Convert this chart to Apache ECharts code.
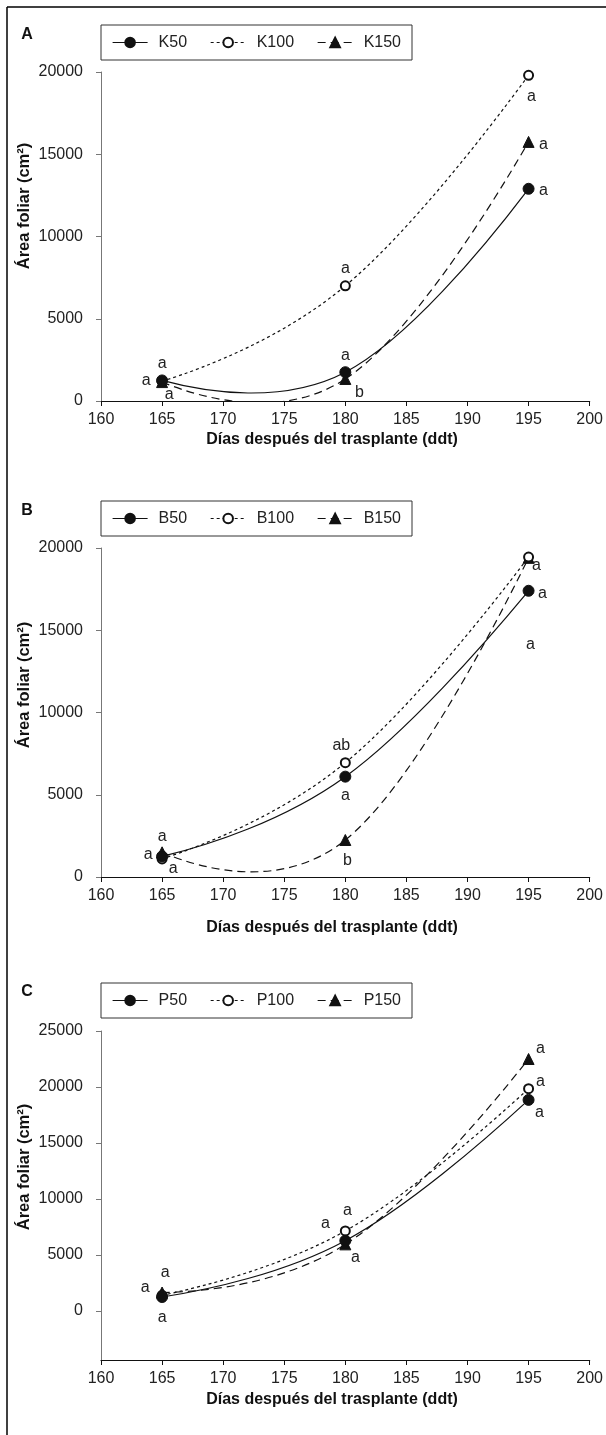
<!DOCTYPE html>
<html>
<head>
<meta charset="utf-8">
<script src="https://cdn.jsdelivr.net/npm/echarts@6.0.0/dist/echarts.min.js"></script>
<style>
  html, body { margin: 0; padding: 0; background: #fff; }
  #chart { width: 606px; height: 1435px; }
</style>
</head>
<body>
<div id="chart"></div>
<script>
// --- data ---
const days = [165, 180, 195];
const yTicksAB = [0, 5000, 10000, 15000, 20000];
const yTicksC = [0, 5000, 10000, 15000, 20000, 25000];

// panel A: potasio
const k50 = [1250, 1750, 12900];
const k100 = [1200, 7000, 19800];
const k150 = [1150, 1340, 15750];
const lettersK50 = ['a', 'a', 'a'];
const lettersK100 = ['a', 'a', 'a'];
const lettersK150 = ['a', 'b', 'a'];

// panel B: boro
const b50 = [1250, 6100, 17400];
const b100 = [1100, 6950, 19450];
const b150 = [1500, 2250, 19400];
const lettersB50 = ['a', 'a', 'a'];
const lettersB100 = ['a', 'ab', 'a'];
const lettersB150 = ['a', 'b', 'a'];

// panel C: fosforo
const p50 = [1250, 6280, 18850];
const p100 = [1400, 7150, 19850];
const p150 = [1650, 5950, 22500];
const lettersP50 = ['a', 'a', 'a'];
const lettersP100 = ['a', 'a', 'a'];
const lettersP150 = ['a', 'a', 'a'];

const FONT = '"Liberation Sans", Arial, sans-serif';
const INK = '#111';
const TXT = '#222';
const FS = 16;

// one entry per panel: grid box + where the texts go
const panels = [
  { top: 72,  yMin: 0,     yMax: 20000, ticks: yTicksAB, legendTop: 25,  letter: 'A', letterY: 35,  yTitleY: 206,  xTitleY: 440 },
  { top: 548, yMin: 0,     yMax: 20000, ticks: yTicksAB, legendTop: 501, letter: 'B', letterY: 511, yTitleY: 685,  xTitleY: 928 },
  { top: 1031, yMin: -4375, yMax: 25000, ticks: yTicksC, legendTop: 983, letter: 'C', letterY: 992, yTitleY: 1167, xTitleY: 1400 }
];

// symbol / dash style per dose (50, 100, 150)
const looks = [
  { symbol: 'circle', size: 11, dash: 'solid', z: 4 },
  { symbol: 'emptyCircle', size: 9, dash: [3, 3], z: 3 },
  { symbol: 'triangle', size: 11, dash: [8, 5], z: 2 }
];

// markers + letters (the joining line is hidden, the smoothed curve is drawn below)
function makeSeries(name, values, letters, panel, dose, offsets) {
  const lk = looks[dose];
  return {
    name: name,
    type: 'line',
    xAxisIndex: panel,
    yAxisIndex: panel,
    z: lk.z,
    symbol: lk.symbol,
    symbolSize: lk.size,
    showAllSymbol: true,
    itemStyle: { color: INK, borderColor: INK, borderWidth: 1 },
    lineStyle: { color: INK, width: 1.2, type: lk.dash, opacity: 0 },
    emphasis: { disabled: true },
    data: values.map((v, i) => ({
      value: [days[i], v],
      label: {
        show: true,
        formatter: letters[i],
        position: 'inside',
        offset: offsets[i],
        color: TXT,
        fontSize: FS,
        fontFamily: FONT
      }
    }))
  };
}

// smoothed curve through the three means, spreadsheet style (may overshoot, unlike echarts smooth)
function makeCurve(name, values, panel, dose) {
  const lk = looks[dose];
  const dash = lk.dash === 'solid' ? null : lk.dash;
  return {
    name: name + ' curva',
    type: 'custom',
    xAxisIndex: panel,
    yAxisIndex: panel,
    clip: true,
    silent: true,
    z: 1,
    data: values.map((v, i) => [days[i], v]),
    renderItem: function (params, api) {
      if (params.dataIndexInside !== 0) return null;
      const p = [0, 1, 2].map(j => api.coord([api.value(0, j), api.value(1, j)]));
      const h = p[1][0] - p[0][0];
      const mx = (p[2][0] - p[0][0]) / 6, my = (p[2][1] - p[0][1]) / 6;
      const sA = (-p[2][1] + 4 * p[1][1] - 3 * p[0][1]) / 2;
      const sB = (3 * p[2][1] - 4 * p[1][1] + p[0][1]) / 2;
      const c0 = [p[0][0] + h / 4, p[0][1] + (sA / 3 + (p[1][1] - p[0][1]) / 6) / 2];
      const c3 = [p[2][0] - h / 4, p[2][1] - (sB / 3 + (p[2][1] - p[1][1]) / 6) / 2];
      const st = { stroke: INK, lineWidth: 1.2, fill: null, lineDash: dash };
      return {
        type: 'group',
        children: [
          { type: 'bezierCurve', shape: { x1: p[0][0], y1: p[0][1], x2: p[1][0], y2: p[1][1],
              cpx1: c0[0], cpy1: c0[1], cpx2: p[1][0] - mx, cpy2: p[1][1] - my }, style: st },
          { type: 'bezierCurve', shape: { x1: p[1][0], y1: p[1][1], x2: p[2][0], y2: p[2][1],
              cpx1: p[1][0] + mx, cpy1: p[1][1] + my, cpx2: c3[0], cpy2: c3[1] }, style: st }
        ]
      };
    }
  };
}

const groups = [
  ['K50', k50, lettersK50, 0, 0, [[-16, 0], [0, -17], [15, 2]]],
  ['K100', k100, lettersK100, 0, 1, [[0, -18], [0, -17], [3, 21]]],
  ['K150', k150, lettersK150, 0, 2, [[7, 13], [14, 14], [15, 3]]],
  ['B50', b50, lettersB50, 1, 0, [[-14, -2], [0, 19], [14, 3]]],
  ['B100', b100, lettersB100, 1, 1, [[11, 10], [-4, -17], [8, 9]]],
  ['B150', b150, lettersB150, 1, 2, [[0, -16], [2, 21], [2, 87]]],
  ['P50', p50, lettersP50, 2, 0, [[0, 21], [-20, -17], [11, 13]]],
  ['P100', p100, lettersP100, 2, 1, [[-17, -8], [2, -20], [12, -7]]],
  ['P150', p150, lettersP150, 2, 2, [[3, -20], [10, 13], [12, -10]]]
];

const series = [];
groups.forEach(g => {
  series.push(makeCurve(g[0], g[1], g[3], g[4]));
  series.push(makeSeries(g[0], g[1], g[2], g[3], g[4], g[5]));
});

const legendNames = [['K50', 'K100', 'K150'], ['B50', 'B100', 'B150'], ['P50', 'P100', 'P150']];

const grids = panels.map(p => ({ left: 101, top: p.top, width: 489, height: 329 }));

const xAxes = panels.map((p, i) => ({
  type: 'value',
  gridIndex: i,
  min: 160,
  max: 200,
  interval: 5,
  axisLine: { show: true, onZero: false, lineStyle: { color: INK, width: 1.2 } },
  axisTick: { show: true, length: 5, lineStyle: { color: INK } },
  axisLabel: { margin: 11, color: TXT, fontSize: FS, fontFamily: FONT, formatter: v => String(v) },
  splitLine: { show: false }
}));

const yAxes = panels.map((p, i) => {
  const ax = {
    type: 'value',
    gridIndex: i,
    min: p.yMin,
    max: p.yMax,
    axisLine: { show: true, lineStyle: { color: '#777', width: 1 } },
    axisTick: { show: true, length: 5, lineStyle: { color: '#777' } },
    axisLabel: { margin: 18, color: TXT, fontSize: FS, fontFamily: FONT, formatter: v => String(v) },
    splitLine: { show: false }
  };
  if (p.yMin === 0) {
    ax.interval = 5000;
  } else {
    ax.axisLabel.customValues = p.ticks;
    ax.axisTick.customValues = p.ticks;
  }
  return ax;
});

const legends = panels.map((p, i) => ({
  data: legendNames[i].map((n, d) => ({
    name: n,
    lineStyle: { color: INK, width: 1.2, type: looks[d].dash, opacity: 1 }
  })),
  left: 101,
  top: p.legendTop,
  orient: 'horizontal',
  itemWidth: 35,
  itemHeight: 12,
  itemGap: 23,
  padding: [8, 11, 8, 11],
  borderColor: '#333',
  borderWidth: 1,
  selectedMode: false,
  textStyle: { color: TXT, fontSize: FS, fontFamily: FONT, lineHeight: 19, padding: [0, 0, 0, 6] }
}));

const graphics = [
  { type: 'line', shape: { x1: 7, y1: 7, x2: 606, y2: 7 }, style: { stroke: '#000', lineWidth: 1.5 } },
  { type: 'line', shape: { x1: 7, y1: 7, x2: 7, y2: 1435 }, style: { stroke: '#000', lineWidth: 1.5 } }
];
panels.forEach(p => {
  graphics.push({
    type: 'text', x: 27, y: p.letterY,
    style: { text: p.letter, align: 'center', verticalAlign: 'middle', fill: INK, font: 'bold 16px ' + FONT }
  });
  graphics.push({
    type: 'text', x: 24, y: p.yTitleY, rotation: Math.PI / 2,
    style: { text: 'Área foliar (cm²)', align: 'center', verticalAlign: 'middle', fill: INK, font: 'bold 16.5px ' + FONT }
  });
  graphics.push({
    type: 'text', x: 332, y: p.xTitleY,
    style: { text: 'Días después del trasplante (ddt)', align: 'center', verticalAlign: 'middle', fill: INK, font: 'bold 16px ' + FONT }
  });
});

const chart = echarts.init(document.getElementById('chart'), null, { renderer: 'canvas' });
chart.setOption({
  animation: false,
  backgroundColor: '#fff',
  grid: grids,
  xAxis: xAxes,
  yAxis: yAxes,
  legend: legends,
  graphic: graphics,
  series: series
});
</script>
</body>
</html>
